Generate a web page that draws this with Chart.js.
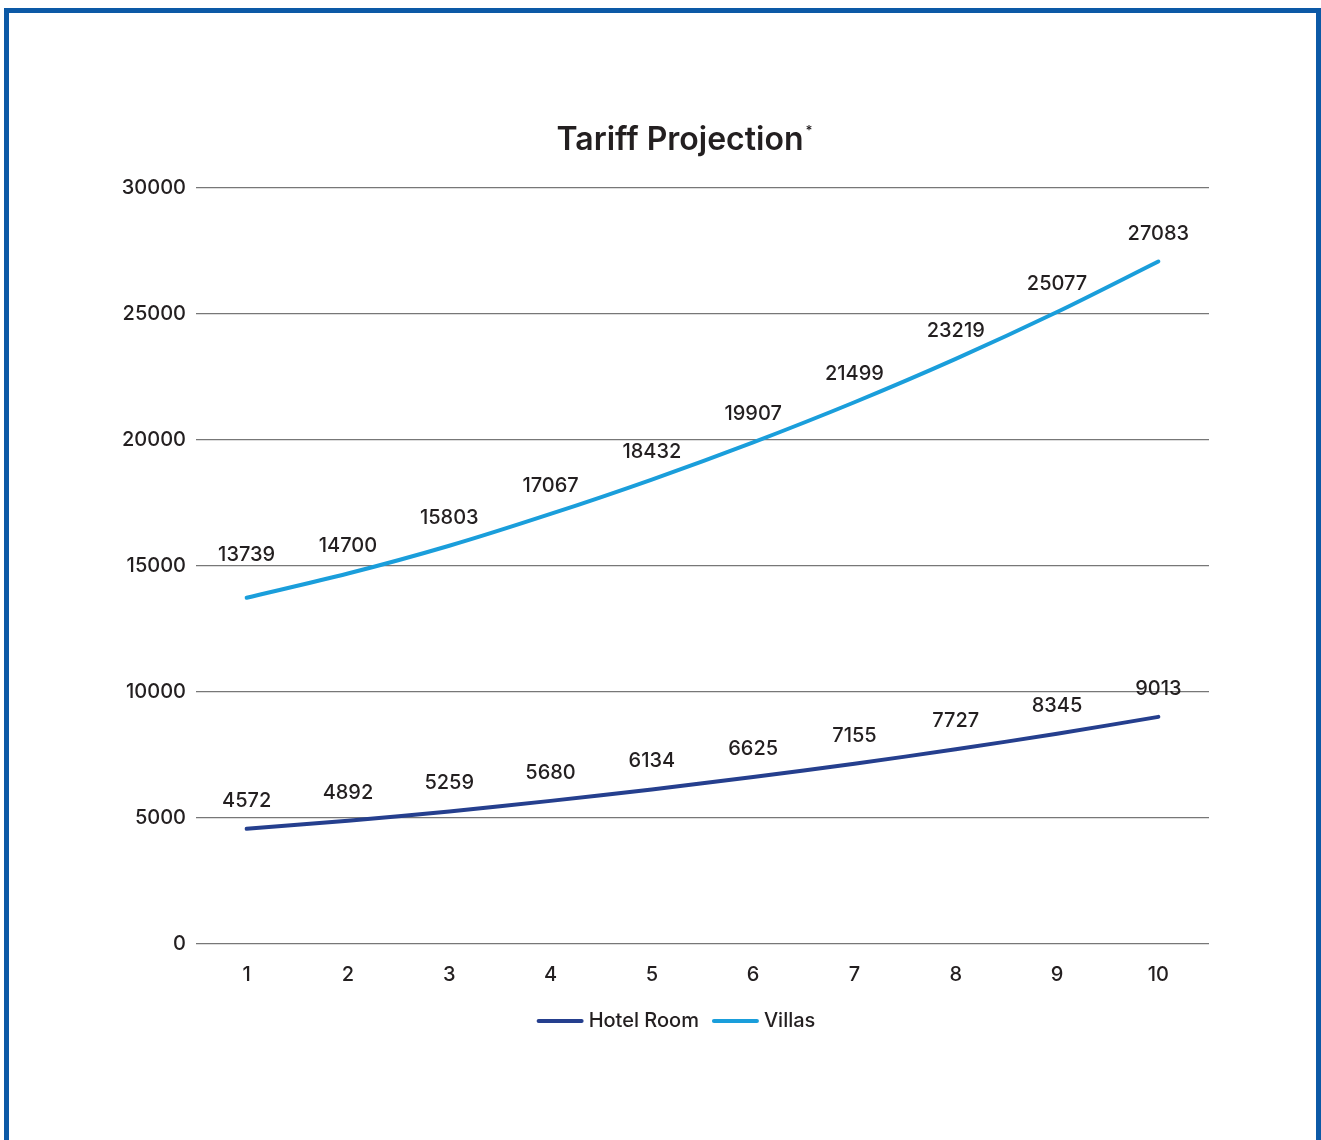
<!DOCTYPE html>
<html>
<head>
<meta charset="utf-8">
<script src="https://cdn.jsdelivr.net/npm/chart.js@4.4.1/dist/chart.umd.min.js"></script>
<style>
  html, body { margin: 0; padding: 0; background: #fff; overflow: hidden; }
  .frame {
    position: absolute; left: 4px; top: 8px; width: 1317px; height: 1200px;
    box-sizing: border-box; border: 5px solid #0c59a6;
  }
  .wrap { position: absolute; left: 0; top: 0; width: 1321px; height: 1140px; }
</style>
</head>
<body>
<div class="frame"></div>
<div class="wrap"><canvas id="tariffChart"></canvas></div>
<script>
const years = ['1', '2', '3', '4', '5', '6', '7', '8', '9', '10'];
const hotelRoom = [4572, 4892, 5259, 5680, 6134, 6625, 7155, 7727, 8345, 9013];
const villas = [13739, 14700, 15803, 17067, 18432, 19907, 21499, 23219, 25077, 27083];

const FONT = 'Inter, "Open Sans", sans-serif';
const TEXT = '#231f20';

// title with a superscript asterisk, values above points and a line legend
const decorations = {
  id: 'decorations',
  afterDatasetsDraw(chart) {
    const ctx = chart.ctx;
    ctx.save();
    ctx.fillStyle = TEXT;
    ctx.textAlign = 'center';
    ctx.textBaseline = 'middle';
    ctx.font = '500 20px ' + FONT;
    chart.data.datasets.forEach((ds, i) => {
      chart.getDatasetMeta(i).data.forEach((pt, j) => {
        // first villa value sits higher so it clears the 15000 line
        const lift = (i === 1 && j === 0) ? 43 : 28;
        ctx.fillText(ds.data[j], pt.x, pt.y - lift);
      });
    });

    // title
    const title = 'Tariff Projection';
    ctx.font = '600 32px ' + FONT;
    const w = ctx.measureText(title).width;
    const cx = 680;
    ctx.textAlign = 'left';
    ctx.fillText(title, cx - w / 2, 140);
    ctx.font = '600 13px ' + FONT;
    ctx.fillText('*', cx + w / 2 + 2, 131);

    // legend
    ctx.font = '500 20px ' + FONT;
    const items = chart.data.datasets.map(ds => ({ label: ds.label, color: ds.borderColor }));
    const lineW = 47, gap = 5, between = 13;
    let total = 0;
    items.forEach((it, k) => {
      it.tw = ctx.measureText(it.label).width;
      total += lineW + gap + it.tw + (k ? between : 0);
    });
    let x = 676 - total / 2;
    const y = 1021;
    items.forEach((it, k) => {
      if (k) x += between;
      ctx.strokeStyle = it.color;
      ctx.lineWidth = 4;
      ctx.lineCap = 'round';
      ctx.beginPath();
      ctx.moveTo(x + 2, y);
      ctx.lineTo(x + lineW - 2, y);
      ctx.stroke();
      x += lineW + gap;
      ctx.fillText(it.label, x, y);
      x += it.tw;
    });
    ctx.restore();
  }
};

new Chart(document.getElementById('tariffChart'), {
  type: 'line',
  data: {
    labels: years,
    datasets: [
      {
        label: 'Hotel Room',
        data: hotelRoom,
        borderColor: '#253f8e',
        backgroundColor: '#253f8e',
        borderWidth: 4,
        pointRadius: 0,
        tension: 0.3,
        borderCapStyle: 'round',
      },
      {
        label: 'Villas',
        data: villas,
        borderColor: '#1a9edb',
        backgroundColor: '#1a9edb',
        borderWidth: 4,
        pointRadius: 0,
        tension: 0.3,
        borderCapStyle: 'round',
      },
    ],
  },
  options: {
    responsive: true,
    maintainAspectRatio: false,
    animation: false,
    layout: { padding: { top: 188, right: 112, bottom: 146, left: 0 } },
    plugins: {
      legend: { display: false },
      title: { display: false },
      tooltip: { enabled: false },
    },
    scales: {
      x: {
        offset: true,
        grid: { display: false, drawTicks: false },
        border: { display: false },
        ticks: { color: TEXT, font: { family: FONT, size: 20, weight: '500' }, padding: 19 },
        afterFit(scale) { scale.height = 50; },
      },
      y: {
        min: 0,
        max: 30000,
        ticks: {
          stepSize: 5000,
          color: TEXT,
          font: { family: FONT, size: 20, weight: '500' },
          padding: 10,
          callback: v => String(v),
        },
        grid: { color: '#777777', lineWidth: 1.2, drawTicks: false },
        border: { display: false },
        afterFit(scale) { scale.width = 196; },
      },
    },
  },
  plugins: [decorations],
});
</script>
</body>
</html>
